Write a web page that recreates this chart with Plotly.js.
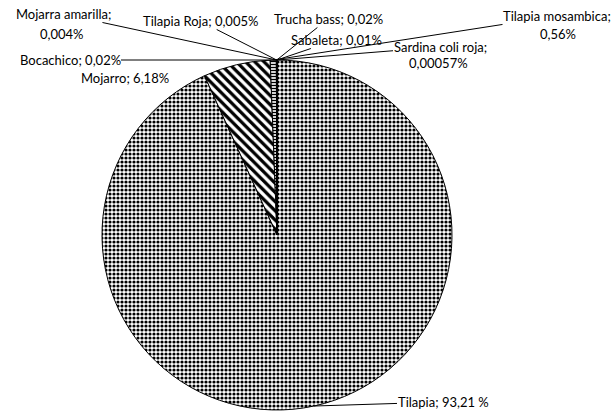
<!DOCTYPE html>
<html>
<head>
<meta charset="utf-8">
<script src="https://cdn.plot.ly/plotly-3.0.1.min.js"></script>
<style>html,body{margin:0;padding:0;background:#fff;}#chart{width:615px;height:412px;}</style>
</head>
<body>
<div id="chart"></div>
<script>
// ---- data ----
const labels = ['Tilapia', 'Mojarro', 'Tilapia mosambica', 'Bocachico', 'Mojarra amarilla', 'Tilapia Roja', 'Trucha bass', 'Sabaleta', 'Sardina coli roja'];
const values = [93.21, 6.18, 0.56, 0.02, 0.004, 0.005, 0.02, 0.01, 0.00057];
const valueTexts = ['93,21 %', '6,18%', '0,56%', '0,02%', '0,004%', '0,005%', '0,02%', '0,01%', '0,00057%'];

// ---- layout settings (pixel geometry) ----
const W = 615, H = 412;
const CX = 277, CY = 235, R = 175;
const labelPos = {
  'Tilapia':           {x: 443, y: 402, leader: true},
  'Mojarro':           {x: 125, y: 78,  leader: false},
  'Tilapia mosambica': {x: 557, y: 16,  leader: true, x2: 558, y2: 34},
  'Bocachico':         {x: 70,  y: 60,  leader: true},
  'Mojarra amarilla':  {x: 63,  y: 14,  leader: true, x2: 62, y2: 34},
  'Tilapia Roja':      {x: 200, y: 21,  leader: true},
  'Trucha bass':       {x: 328, y: 19,  leader: true},
  'Sabaleta':          {x: 336, y: 40,  leader: true},
  'Sardina coli roja': {x: 440, y: 47,  leader: true, x2: 438, y2: 63}
};
const patternShape = {'Tilapia': '.', 'Mojarro': '\\', 'Tilapia mosambica': '-'};
const patternSize = {'Tilapia': 4, 'Mojarro': 6.5, 'Tilapia mosambica': 3};
const patternSolidity = {'Tilapia': 0.5, 'Mojarro': 0.5, 'Tilapia mosambica': 0.45};

const font = {family: 'Lato, "Noto Sans", sans-serif', size: 13, color: '#000'};

const total = values.reduce((a, b) => a + b, 0);
let cum = 0;
const annotations = [];
labels.forEach((lab, i) => {
  const mid = (cum + values[i] / 2) / total * 2 * Math.PI;
  cum += values[i];
  const tipX = CX + R * Math.sin(mid);
  const tipY = CY - R * Math.cos(mid);
  const p = labelPos[lab];
  const two = p.x2 !== undefined;
  const line1 = two ? lab + ';' : lab + '; ' + valueTexts[i];
  if (p.leader) {
    annotations.push({
      x: tipX / W, y: 1 - tipY / H, xref: 'paper', yref: 'paper',
      text: line1, showarrow: true, arrowhead: 0, arrowwidth: 1, arrowcolor: '#000',
      standoff: 0, startstandoff: 0,
      ax: p.x - tipX, ay: p.y - tipY, axref: 'pixel', ayref: 'pixel',
      font: font, borderpad: 0
    });
  } else {
    annotations.push({
      x: p.x / W, y: 1 - p.y / H, xref: 'paper', yref: 'paper',
      xanchor: 'center', yanchor: 'middle',
      text: line1, showarrow: false, font: font
    });
  }
  if (two) {
    annotations.push({
      x: p.x2 / W, y: 1 - p.y2 / H, xref: 'paper', yref: 'paper',
      xanchor: 'center', yanchor: 'middle',
      text: valueTexts[i], showarrow: false, font: font
    });
  }
});

const trace = {
  type: 'pie',
  labels: labels,
  values: values,
  sort: false,
  direction: 'clockwise',
  rotation: 0,
  textinfo: 'none',
  hoverinfo: 'label+percent',
  domain: {x: [(CX - R) / W, (CX + R) / W], y: [1 - (CY + R) / H, 1 - (CY - R) / H]},
  marker: {
    colors: labels.map(() => '#ffffff'),
    line: {color: '#000', width: 1},
    pattern: {
      shape: labels.map(l => patternShape[l] || ''),
      fgcolor: '#000',
      bgcolor: '#fff',
      size: labels.map(l => patternSize[l] || 4),
      solidity: labels.map(l => patternSolidity[l] || 0.3),
      fillmode: 'replace'
    }
  }
};

Plotly.newPlot('chart', [trace], {
  width: W, height: H,
  margin: {l: 0, r: 0, t: 0, b: 0},
  paper_bgcolor: '#fff',
  showlegend: false,
  annotations: annotations
}, {staticPlot: true});
</script>
</body>
</html>
